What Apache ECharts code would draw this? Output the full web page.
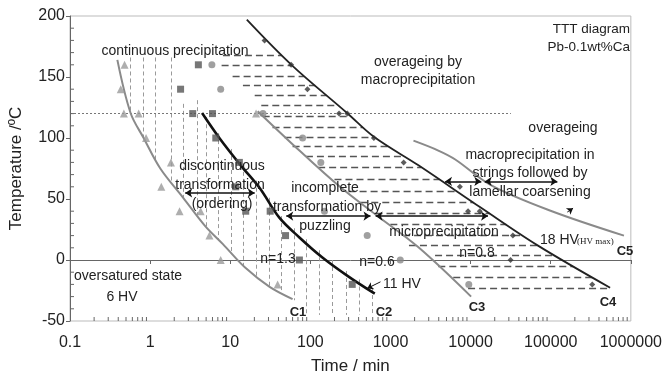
<!DOCTYPE html>
<html>
<head>
<meta charset="utf-8">
<script src="https://cdn.jsdelivr.net/npm/echarts@6/dist/echarts.min.js"></script>
<style>
html,body{margin:0;padding:0;background:#fff;}
#chart{width:665px;height:380px;}
</style>
</head>
<body>
<div id="chart"></div>
<script>
// 曲线 C1..C5 (时间 min, 温度 ºC)
var c1 = [[0.39,164],[0.57,120.5],[0.83,100],[1.34,75],[2.59,51],[4.84,28],[8.1,13],[15.2,-6],[31,-22],[60,-32]];
var c2 = [[4.45,120.5],[7.43,99.4],[13.5,77.6],[23.3,59],[41,34.7],[73,18.5],[140,2.3],[303,-13.8],[637,-27.6]];
var c3 = [[22,122],[73,89.7],[228,60.6],[656,37.1],[2234,10.4],[10140,-30]];
var c4 = [[16.1,197],[58,160],[287,120.5],[620,101],[2234,77.6],[13500,42.8],[68500,12],[551000,-22.7]];
var c5 = [[1936,97.8],[3955,89.7],[6430,82.4],[17900,61.4],[99500,40.4],[820000,20]];

// 测量点
var triangles = [[0.48,160],[0.43,140],[0.47,120],[0.72,120],[0.89,100],[1.82,80],[1.38,60],[2.33,40],[4.27,40],[5.5,20],[7.6,0],[39,-20],[21,120]];
var squares = [[4,160],[2.4,140],[3.4,120],[6,120],[6.6,100],[13,80],[11.7,60],[15.6,40],[31.5,40],[49,20],[73,0],[333,-20]];
var circles = [[5.9,160],[7.6,140],[25.6,120],[80,100],[135,80],[150,40],[512,20],[1325,0],[9490,-20]];
var diamonds = [[26.8,180],[57.5,160],[92,140],[228,120],[289,120],[620,100],[1460,80],[7350,60],[9300,40],[13000,40],[33700,20],[31500,0],[330000,-20]];

// 竖线阴影 (不连续转变区)
var vLineX = [0.56,0.82,1.17,1.82,2.61,3.83,5.08,7.08,10.2,14.7,21.4,30.5,43.5,63,89,129,186,278,403,585];
var vLineTop = [166,166,166,166,128,131,117,104,91,78,65,51,36,26,17,8,0,-9,-16,-23];
var vLineBottom = [122,100,82,64,51,37,27,17,6,-5,-14,-22,-27,-33,-45,-45,-45,-45,-45,-45];

// 横线阴影 (微沉淀区)
var hRowY = [168,160,151,143,135,127,118,109,101,93,85,76,66,56,47,38,29,20,12,4,-5,-14,-23];
var hRowFrom = [8.1,7.8,10.7,14.4,20.2,24.4,25.4,33.7,47.5,60,88,125,200,300,420,650,995,1435,1700,3600,3950,6070,9300];
var hRowTo = [44,58,83,115,160,220,317,452,620,960,1490,2430,4060,6820,10900,17400,27900,44900,68500,111000,190000,327000,560000];

// 双向箭头 [x1, x2, y]
var dblArrows = [[2.74,20.2,55],[50,563,36],[652,16500,36],[4790,13600,64.4],[15000,121000,64.4]];
// 指示箭头 [x1,y1,x2,y2]
var pointers = [[750,-17.9,512,-23.3],[161000,39.3,190000,42.5]];
var dotted120 = [[0.1,120],[31800,120]];

var xMinor = [];
[0.1,1,10,100,1000,10000,100000].forEach(function(d){
    for (var m = 2; m <= 9; m++) xMinor.push(d*m);
});
var yMinor = [-40,-30,-20,-10,10,20,30,40,60,70,80,90,110,120,130,140,160,170,180,190];

var chart = echarts.init(document.getElementById('chart'));
var FONT = 'Liberation Sans, Arial, sans-serif';

function seg(a,b){ return {coords:[a,b]}; }

var vSegs = vLineX.map(function(x,i){ return seg([x,vLineTop[i]],[x,vLineBottom[i]]); });
var hSegs = hRowY.map(function(y,i){ return seg([hRowFrom[i],y],[hRowTo[i],y]); });
var arrSegs = dblArrows.map(function(a){ return seg([a[0],a[2]],[a[1],a[2]]); });
var ptrSegs = pointers.map(function(p){ return seg([p[0],p[1]],[p[2],p[3]]); });

function curve(data,color,width){
    return {type:'line',data:data,smooth:0.35,symbol:'none',silent:true,
        lineStyle:{color:color,width:width},z:4};
}
function pts(data,sym,size,color){
    return {type:'scatter',data:data,symbol:sym,symbolSize:size,itemStyle:{color:color},z:5};
}
function txt(s,x,y,opt){
    opt = opt||{};
    return {type:'text',x:x,y:y,z:10,style:{text:s,fill:'#222',
        font:(opt.bold?'bold ':'')+(opt.size||14)+'px '+(opt.family||FONT),
        textAlign:opt.align||'center',textVerticalAlign:'middle'}};
}

var minorTicks = xMinor.map(function(v){return ['x',v];}).concat(yMinor.map(function(v){return ['y',v];}));

var option = {
    backgroundColor:'#fff',
    animation:false,
    grid:{left:69,right:31,top:16,bottom:55,show:true,borderColor:'#bbb',borderWidth:1},
    xAxis:{
        type:'log',min:0.1,max:1000000,logBase:10,
        name:'Time / min',nameLocation:'middle',nameGap:37,
        nameTextStyle:{fontSize:17,color:'#222',fontFamily:FONT},
        axisLine:{lineStyle:{color:'#666'}},
        axisTick:{show:true,length:4,lineStyle:{color:'#666'}},
        axisLabel:{fontSize:16,color:'#222',fontFamily:FONT,margin:14,
            formatter:function(v){ return v < 1 ? '0.1' : String(Math.round(v)); }},
        splitLine:{show:false}
    },
    yAxis:{
        type:'value',min:-50,max:200,interval:50,
        name:'Temperature /ºC',nameLocation:'middle',nameGap:45,nameRotate:90,
        nameTextStyle:{fontSize:17,color:'#222',fontFamily:FONT},
        axisLine:{show:true,lineStyle:{color:'#666'}},
        axisTick:{show:true,length:4,lineStyle:{color:'#666'}},
        axisLabel:{fontSize:16,color:'#222',fontFamily:FONT,margin:5},
        splitLine:{show:false}
    },
    series:[
        {type:'custom',silent:true,z:3,data:minorTicks,
            renderItem:function(params,api){
                var ax = minorTicks[params.dataIndex][0];
                var v = minorTicks[params.dataIndex][1];
                var p;
                if (ax === 'x') {
                    p = api.coord([v,-50]);
                    return {type:'line',shape:{x1:p[0],y1:p[1],x2:p[0],y2:p[1]-4},style:{stroke:'#666',lineWidth:1}};
                }
                p = api.coord([0.1,v]);
                return {type:'line',shape:{x1:p[0],y1:p[1],x2:p[0]+4,y2:p[1]},style:{stroke:'#666',lineWidth:1}};
            }},
        {type:'lines',coordinateSystem:'cartesian2d',silent:true,z:2,data:vSegs,
            lineStyle:{color:'#9a9a9a',width:1,type:[4,3],opacity:1}},
        {type:'lines',coordinateSystem:'cartesian2d',silent:true,z:2,data:hSegs,
            lineStyle:{color:'#555',width:1.4,type:[7,4],opacity:1}},
        {type:'lines',coordinateSystem:'cartesian2d',silent:true,z:2,data:[seg(dotted120[0],dotted120[1])],
            lineStyle:{color:'#777',width:1,type:[2,2],opacity:1}},
        curve(c1,'#8a8a8a',2),
        curve(c2,'#111',2.6),
        curve(c3,'#8a8a8a',2),
        curve(c4,'#222',1.8),
        curve(c5,'#8a8a8a',2),
        pts(triangles,'triangle',8,'#9a9a9a'),
        pts(squares,'rect',7,'#555'),
        pts(circles,'circle',7,'#888'),
        pts(diamonds,'diamond',6,'#333'),
        {type:'lines',coordinateSystem:'cartesian2d',silent:true,z:6,data:arrSegs,
            symbol:['arrow','arrow'],symbolSize:7,
            lineStyle:{color:'#111',width:1.6,opacity:1}},
        {type:'lines',coordinateSystem:'cartesian2d',silent:true,z:6,data:ptrSegs,
            symbol:['none','arrow'],symbolSize:6,
            lineStyle:{color:'#111',width:1,opacity:1}}
    ],
    graphic:[
        txt('continuous precipitation',175,51),
        txt('overageing by',418,62),
        txt('macroprecipitation',418,80),
        txt('TTT diagram',630,29,{align:'right',size:13.5}),
        txt('Pb-0.1wt%Ca',630,47,{align:'right',size:13.5}),
        txt('overageing',563,128),
        txt('macroprecipitation in',530,155),
        txt('strings followed by',530,173),
        txt('lamellar coarsening',530,192),
        txt('discontinuous',222,166),
        txt('transformation',220,185),
        txt('(ordering)',222,204),
        txt('incomplete',325,188),
        txt('transformation by',327,207),
        txt('puzzling',325,226),
        txt('microprecipitation',444,232),
        txt('n=0.8',477,253),
        txt('n=0.6',377,262),
        txt('n=1.3',278,259),
        txt('11 HV',383,284,{align:'left'}),
        txt('18 HV',540,240,{align:'left'}),
        txt('(HV max)',577,242,{align:'left',size:9,family:'Liberation Serif, serif'}),
        txt('C5',625,251,{bold:true,size:13}),
        txt('C4',608,302,{bold:true,size:13}),
        txt('C3',477,307,{bold:true,size:13}),
        txt('C2',384,312,{bold:true,size:13}),
        txt('C1',298,312,{bold:true,size:13}),
        txt('oversatured state',128,276),
        txt('6 HV',122,297)
    ]
};
chart.setOption(option);
</script>
</body>
</html>
